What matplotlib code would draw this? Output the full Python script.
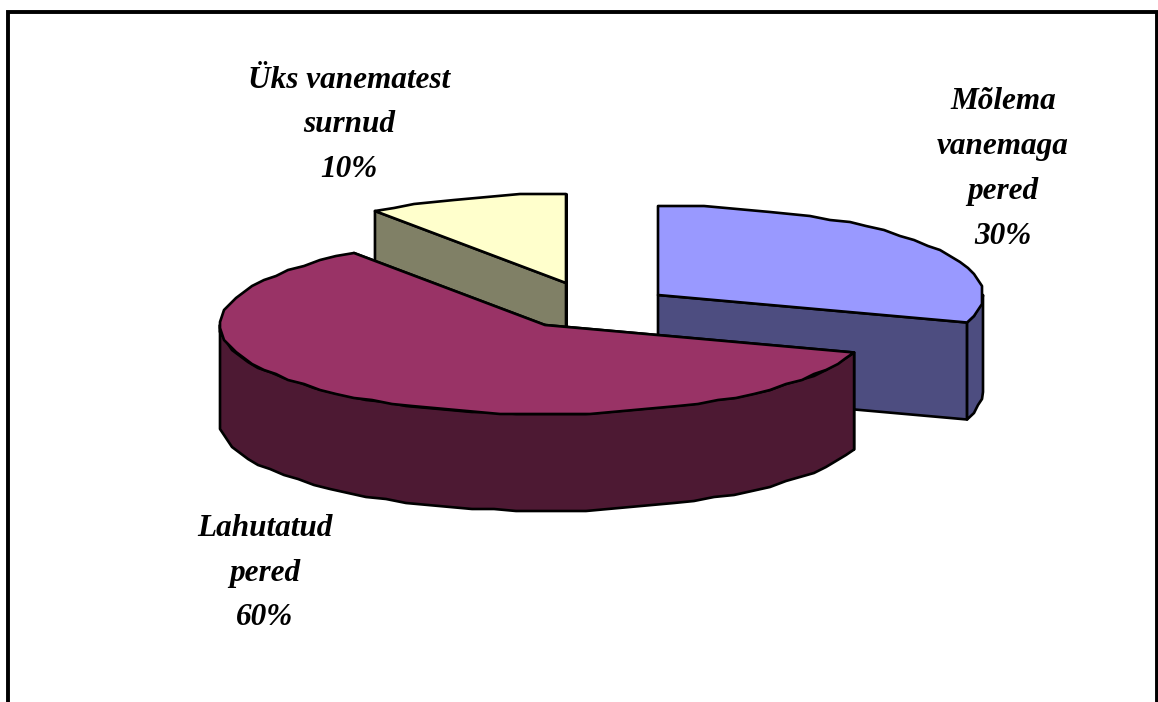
import numpy as np
import matplotlib
matplotlib.use('Agg')
import matplotlib.pyplot as plt
from matplotlib.patches import Polygon

plt.rcParams['font.family'] = ['Liberation Serif', 'DejaVu Serif']

# data
categories = ['Mõlema\nvanemaga\npered', 'Lahutatud\npered', 'Üks vanematest\nsurnud']
values = [30, 60, 10]

# look of each slice
top_colors = ['#9999FF', '#993366', '#FFFFCC']
side_colors = ['#4D4D80', '#4D1933', '#808066']
centers = [(658, 295), (545, 325), (566, 283)]   # exploded apex, in pixels
label_pos = [(1003, 169), (265, 573), (349, 125)]
rx, ry, depth = 325, 89, 97


def arc(c, a0, a1):
    # rim of the tilted circle, coarse and snapped so it looks jagged like the original
    n = max(int(abs(a1 - a0) / 4), 2)
    t = np.radians(np.linspace(a0, a1, n + 1))
    x = c[0] + rx * np.cos(t)
    y = c[1] - ry * np.sin(t)
    x[1:-1] = np.round(x[1:-1] / 2) * 2
    y[1:-1] = np.round(y[1:-1] / 2) * 2
    return np.column_stack([x, y])


fig = plt.figure(figsize=(11.58, 7.02), dpi=100)
ax = fig.add_axes([0, 0, 1, 1])
ax.set_xlim(0, 1158)
ax.set_ylim(702, 0)
ax.axis('off')

# outer frame, bottom edge is cut off in the original
ax.plot([8, 8, 1156.5, 1156.5], [702, 11.5, 11.5, 702], color='black', lw=2.8,
        solid_joinstyle='miter', zorder=1)

# angles run clockwise from 12 o'clock
ends = 90 - np.cumsum(values) / np.sum(values) * 360
starts = np.r_[90, ends[:-1]]


def draw_slice(i):
    c = centers[i]
    a0, a1 = starts[i], ends[i]
    apex = np.array(c, dtype=float)
    down = np.array([0, depth])
    edge = dict(edgecolor='black', lw=1.9, joinstyle='round')

    rim = arc(c, a0, a1)
    # cut faces
    for p in (rim[0], rim[-1]):
        ax.add_patch(Polygon([apex, p, p + down, apex + down], facecolor=side_colors[i], **edge))
    # outer wall, only the part facing the viewer (lower half of the rim)
    lo, hi = min(a0, a1), max(a0, a1)
    for k in range(-1, 2):
        w0 = max(lo, -180 + 360 * k)
        w1 = min(hi, 0 + 360 * k)
        if w1 > w0:
            wall = arc(c, w0, w1)
            ax.add_patch(Polygon(np.vstack([wall, (wall + down)[::-1]]),
                                 facecolor=side_colors[i], **edge))
    # top
    ax.add_patch(Polygon(np.vstack([apex, rim]), facecolor=top_colors[i], **edge))


# back slices first, big slice sits in front
for i in [2, 0, 1]:
    draw_slice(i)

for name, v, pos in zip(categories, values, label_pos):
    ax.text(pos[0], pos[1], f'{name}\n{v}%', ha='center', va='center', fontsize=22.5,
            fontweight='bold', fontstyle='italic', linespacing=1.72, multialignment='center')

plt.savefig('out.png', dpi=100)
